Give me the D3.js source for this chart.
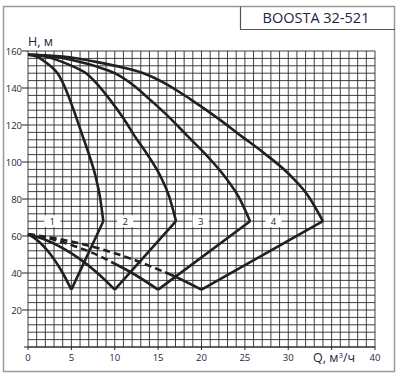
<!DOCTYPE html>
<html lang="ru">
<head>
<meta charset="UTF-8">
<title>BOOSTA 32-521</title>
<script src="https://d3js.org/d3.v7.min.js"></script>
<style>
  body { margin: 0; background: #fff; }
  svg { display: block; font-family: "Open Sans", "Liberation Sans", sans-serif; }
  .tick-label { font-size: 9.5px; fill: #1d2440; }
</style>
</head>
<body>
<svg id="chart" width="400" height="377"></svg>
<script>
// head curves, one per pump count (Q m3/h, H m)
const curve1 = [[0,158],[1,157],[2,154],[2.8,151],[3.4,148],[4.1,142],[4.8,134],[5.6,123.6],[6.3,114],[7,104.5],[7.8,92],[8.3,81],[8.68,68]];
const curve2 = [[0,158],[2,157],[4,154],[5.5,151],[6.7,148],[8,142],[9.4,134],[11,123.6],[12.3,114],[13.7,104.5],[15.3,92],[16.3,81],[17.06,68]];
const curve3 = [[0,158],[3,157],[6,154],[8.3,151],[10,148],[12,142],[14,134],[16.4,123.6],[18.4,114],[20.4,104.5],[22.7,92],[24.3,81],[25.6,68]];
const curve4 = [[0,158],[4,157],[8,154],[11,151],[13.3,148],[16,142],[18.7,134],[21.9,123.6],[24.6,114],[27.3,104.5],[30.4,92],[32.4,81],[34,68]];

// lower boundary curves from H=61 down to the minimum point
const lower1 = [[0,61],[1,58],[2,53.5],[3,47.5],[4,40],[5,31]];
const lower2 = [[0,61],[2,58],[4,53.5],[6,47.5],[8,40],[10,31]];
const lower3 = [[0,61],[3,58],[6,53.5],[9,47.5],[12,40],[15,31]];
const lower4 = [[0,61],[4,58],[8,53.5],[12,47.5],[16,40],[20,31]];
// where the dashed part of each lower curve ends (Q)
const dashEnd = [0, 0, 10, 15.8];

const curveLabels = ["1", "2", "3", "4"];
const labelQ = [2.8, 11.2, 19.9, 28.3];
const labelH = 68;

const xTicks = [0, 5, 10, 15, 20, 25, 30, 40];
const yTicks = [20, 40, 60, 80, 100, 120, 140, 160];

const svg = d3.select("#chart");
const x = d3.scaleLinear().domain([0, 40]).range([28, 375]);
const y = d3.scaleLinear().domain([0, 160]).range([347, 51]);

// outer frame and title box
svg.append("rect").attr("x", 3.5).attr("y", 6.5).attr("width", 391).attr("height", 365)
  .attr("fill", "#fff").attr("stroke", "#9a9a9a").attr("stroke-width", 1.5);
svg.append("path").attr("d", "M240.5,6.5V29.5H395").attr("fill", "none")
  .attr("stroke", "#555").attr("stroke-width", 1.2);
svg.append("text").attr("x", 316).attr("y", 23).attr("text-anchor", "middle")
  .attr("font-size", 14.5).attr("fill", "#1d2440").text("BOOSTA 32-521");

// grid: every 1 m3/h and every 4 m
const grid = svg.append("g").attr("stroke", "#2a2a2a").attr("stroke-width", 0.9);
grid.selectAll(".gx").data(d3.range(0, 41, 1)).join("line")
  .attr("x1", d => x(d)).attr("x2", d => x(d))
  .attr("y1", y(0)).attr("y2", y(160));
grid.selectAll(".gy").data(d3.range(0, 161, 4)).join("line")
  .attr("x1", x(0)).attr("x2", x(40))
  .attr("y1", d => y(d)).attr("y2", d => y(d));

// axes ticks
svg.append("line").attr("x1", 24).attr("x2", x(40)).attr("y1", y(0)).attr("y2", y(0))
  .attr("stroke", "#222").attr("stroke-width", 1);
svg.selectAll(".ytk").data(yTicks).join("line")
  .attr("x1", 22).attr("x2", x(0)).attr("y1", d => y(d)).attr("y2", d => y(d))
  .attr("stroke", "#222").attr("stroke-width", 1);
svg.selectAll(".ytl").data(yTicks).join("text").attr("class", "tick-label")
  .attr("x", 22).attr("y", d => y(d) + 3.5).attr("text-anchor", "end").text(d => d);
svg.selectAll(".xtk").data(d3.range(0, 41, 5)).join("line")
  .attr("x1", d => x(d)).attr("x2", d => x(d)).attr("y1", y(0)).attr("y2", y(0) + 3)
  .attr("stroke", "#222").attr("stroke-width", 1);
svg.selectAll(".xtl").data(xTicks).join("text").attr("class", "tick-label")
  .attr("x", d => x(d)).attr("y", 361).attr("text-anchor", "middle").text(d => d);
svg.append("text").attr("x", 28).attr("y", 46).attr("font-size", 12.5).attr("fill", "#1d2440").text("H, м");
svg.append("text").attr("x", 313).attr("y", 362).attr("font-size", 12.5).attr("fill", "#1d2440")
  .html('Q, м<tspan font-size="8" dy="-4">3</tspan><tspan dy="4">/ч</tspan>');

// curves
const line = d3.line().x(d => x(d[0])).y(d => y(d[1]));
const smooth = d3.line().x(d => x(d[0])).y(d => y(d[1])).curve(d3.curveMonotoneX);
const heads = [curve1, curve2, curve3, curve4];
const lowers = [lower1, lower2, lower3, lower4];
const ink = "#231f20";
const curves = svg.append("g").attr("fill", "none").attr("stroke", ink)
  .attr("stroke-width", 2.6).attr("stroke-linejoin", "miter");

heads.forEach((h, i) => {
  const low = lowers[i];
  const tip = h[h.length - 1];
  const bottom = low[low.length - 1];
  curves.append("path").attr("d", smooth(h));
  curves.append("path").attr("d", line([tip, bottom]));
  const cut = dashEnd[i];
  if (cut > 0) {
    const fn = d3.scaleLinear().domain(low.map(d => d[0])).range(low.map(d => d[1]));
    const dashed = low.filter(d => d[0] < cut).concat([[cut, fn(cut)]]);
    const solid = [[cut, fn(cut)]].concat(low.filter(d => d[0] > cut));
    curves.append("path").attr("d", smooth(dashed)).attr("stroke-dasharray", "7,4");
    curves.append("path").attr("d", smooth(solid));
  } else {
    curves.append("path").attr("d", smooth(low));
  }
});

// curve number labels
curveLabels.forEach((t, i) => {
  svg.append("rect").attr("x", x(labelQ[i]) - 8).attr("y", y(labelH) - 6)
    .attr("width", 16).attr("height", 12).attr("fill", "#fff");
  svg.append("text").attr("class", "tick-label").attr("x", x(labelQ[i]))
    .attr("y", y(labelH) + 3.5).attr("text-anchor", "middle").text(t);
});
</script>
</body>
</html>
